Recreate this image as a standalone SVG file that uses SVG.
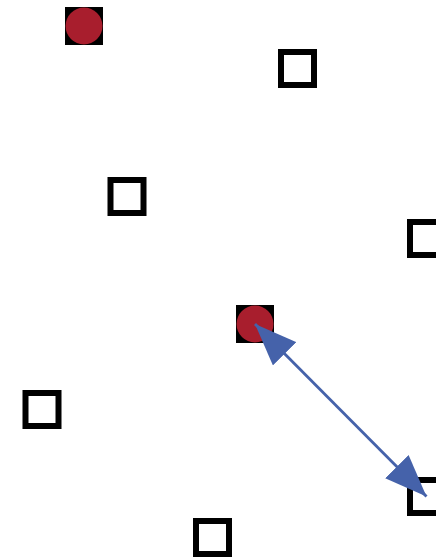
<svg xmlns="http://www.w3.org/2000/svg" width="436" height="557" viewBox="0 0 436 557">
<style>
.sq{fill:#fff;stroke:#000;stroke-width:6}
.bg{fill:#000}
.dot{fill:#A81E2D}
.edge{stroke:#4562AA;stroke-width:2.8;fill:none}
</style>
<defs>
<marker id="ah" viewBox="0 0 42 33" refX="42" refY="16.5" markerWidth="42" markerHeight="33" markerUnits="userSpaceOnUse" orient="auto-start-reverse">
<path d="M0,0 L42,16.5 L0,33 z" fill="#4562AA"/>
</marker>
</defs>
<rect width="436" height="557" fill="#fff"/>
<g id="n1"><rect class="bg" x="65" y="7" width="38" height="38"/><circle class="dot" cx="84" cy="26" r="18.5"/></g>
<g id="n2"><rect class="sq" x="281" y="52" width="33" height="33"/></g>
<g id="n3"><rect class="sq" x="110.5" y="180" width="33" height="33"/></g>
<g id="n4"><rect class="sq" x="410" y="222" width="33" height="33"/></g>
<g id="n5"><rect class="bg" x="236" y="305" width="38" height="38"/><circle class="dot" cx="255" cy="324" r="18.5"/></g>
<g id="n6"><rect class="sq" x="25.5" y="393" width="33" height="33"/></g>
<g id="n7"><rect class="sq" x="410" y="480" width="33" height="33"/></g>
<g id="n8"><rect class="sq" x="196" y="521" width="33" height="33"/></g>
<g id="edges">
<line class="edge" x1="255" y1="324" x2="426.5" y2="496.5" marker-start="url(#ah)" marker-end="url(#ah)"/>
</g>
</svg>
